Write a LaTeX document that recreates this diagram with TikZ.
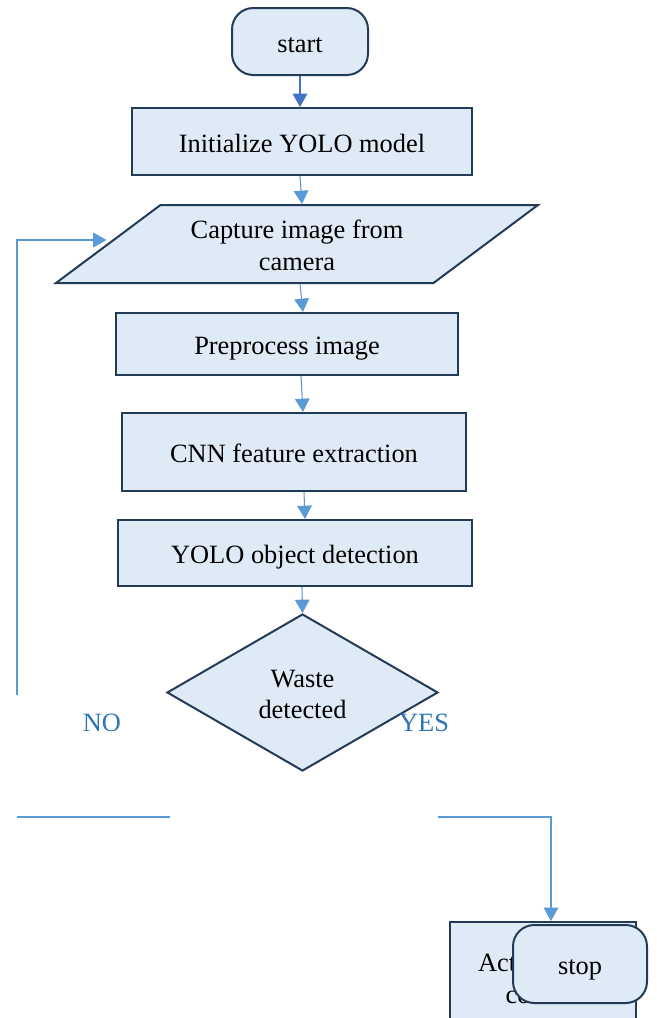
\documentclass[tikz,border=0pt]{standalone}
\usepackage{fontspec}
\setmainfont{Liberation Serif}
\usetikzlibrary{shapes.geometric,arrows.meta}

\definecolor{boxfill}{RGB}{222,234,246}
\definecolor{boxline}{RGB}{36,59,87}
\definecolor{flowline}{RGB}{91,155,213}
\definecolor{startline}{RGB}{68,114,196}
\definecolor{labeltext}{RGB}{46,117,182}

\begin{document}
\begin{tikzpicture}[x=0.75pt,y=0.75pt,yscale=-1,xscale=1,
  font=\fontsize{19.8}{23.5}\selectfont,
  procbox/.style={draw=boxline,fill=boxfill,line width=1.5pt,inner sep=0.75pt,align=center},
  oneline/.style={text height=15.8pt,text depth=0pt},
  twoline/.style={text height=39.3pt,text depth=0pt},
  termbox/.style={procbox,oneline,rounded corners=16pt},
  flow/.style={draw=flowline,line width=0.8pt,-{Triangle[length=10pt,width=11pt]}},
  wire/.style={draw=flowline,line width=0.8pt},
  answer/.style={text=labeltext,inner sep=0.75pt}]
%uncomment if require: \path (0,1018); %set diagram left start at 0, and has height of 1018
\useasboundingbox (0,0) rectangle (657,1018);

%Rounded Rect [id:start]
\node[termbox,minimum width=102pt,minimum height=50.25pt] (start) at (300,41.5) {start};
%Shape: Rectangle [id:init]
\node[procbox,oneline,minimum width=255pt,minimum height=50.25pt] (init) at (302,141.5) {Initialize YOLO model};
%Shape: Parallelogram [id:cap]
\node[procbox,twoline,trapezium,trapezium left angle=27.5,trapezium right angle=152.5,
  trapezium stretches body,minimum width=361.5pt,minimum height=58.5pt] (cap) at (297,244) {Capture image from\\camera};
%Shape: Rectangle [id:pre]
\node[procbox,oneline,minimum width=256.5pt,minimum height=46.5pt] (pre) at (287,344) {Preprocess image};
%Shape: Rectangle [id:cnn]
\node[procbox,oneline,minimum width=258pt,minimum height=58.5pt] (cnn) at (294,452) {CNN feature extraction};
%Shape: Rectangle [id:yolo]
\node[procbox,oneline,minimum width=265.5pt,minimum height=49.5pt] (yolo) at (295,553) {YOLO object detection};
%Shape: Diamond [id:dec]
\node[procbox,twoline,diamond,inner sep=0pt,minimum width=203.25pt,minimum height=117.75pt] (dec) at (302.5,692.5) {Waste\\detected};
%Shape: Rectangle [id:act]
\node[procbox,twoline,minimum width=139.5pt,minimum height=82.5pt] (act) at (543,977) {Activate bin\\control};
%Rounded Rect [id:stop]
\node[termbox,minimum width=100.5pt,minimum height=58.5pt] (stop) at (580,964) {stop};

% Text Node
\node[answer] (no) at (102,723) {NO};
% Text Node
\node[answer] (yes) at (424,723) {YES};

%Free ends
\coordinate (fbA) at (17,695);
\coordinate (fbB) at (17,240);
\coordinate (noA) at (17,817);
\coordinate (noB) at (170,817);
\coordinate (yesA) at (438,817);
\coordinate (yesB) at (551,817);

%Straight Lines
\draw[flow,draw=startline,-{Triangle[length=10pt,width=11pt,fill=startline]}] (start) -- (start |- init.north);
\draw[flow] ([xshift=-1.5pt]init.south) -- ([xshift=3.75pt]cap.north);
\draw[flow] ([xshift=2.25pt]cap.south) -- ([xshift=12pt]pre.north);
\draw[flow] ([xshift=10.5pt]pre.south) -- ([xshift=6.75pt]cnn.north);
\draw[flow] ([xshift=7.5pt]cnn.south) -- ([xshift=7.5pt]yolo.north);
\draw[flow] ([xshift=5.25pt]yolo.south) -- (dec.north);
%Elbow lines
\draw[flow] (fbA) -- (fbB) -- (fbB -| cap.west);
\draw[wire] (noA) -- (noB);
\draw[flow] (yesA) -- (yesB) -- (yesB |- act.north);

\end{tikzpicture}
\end{document}
